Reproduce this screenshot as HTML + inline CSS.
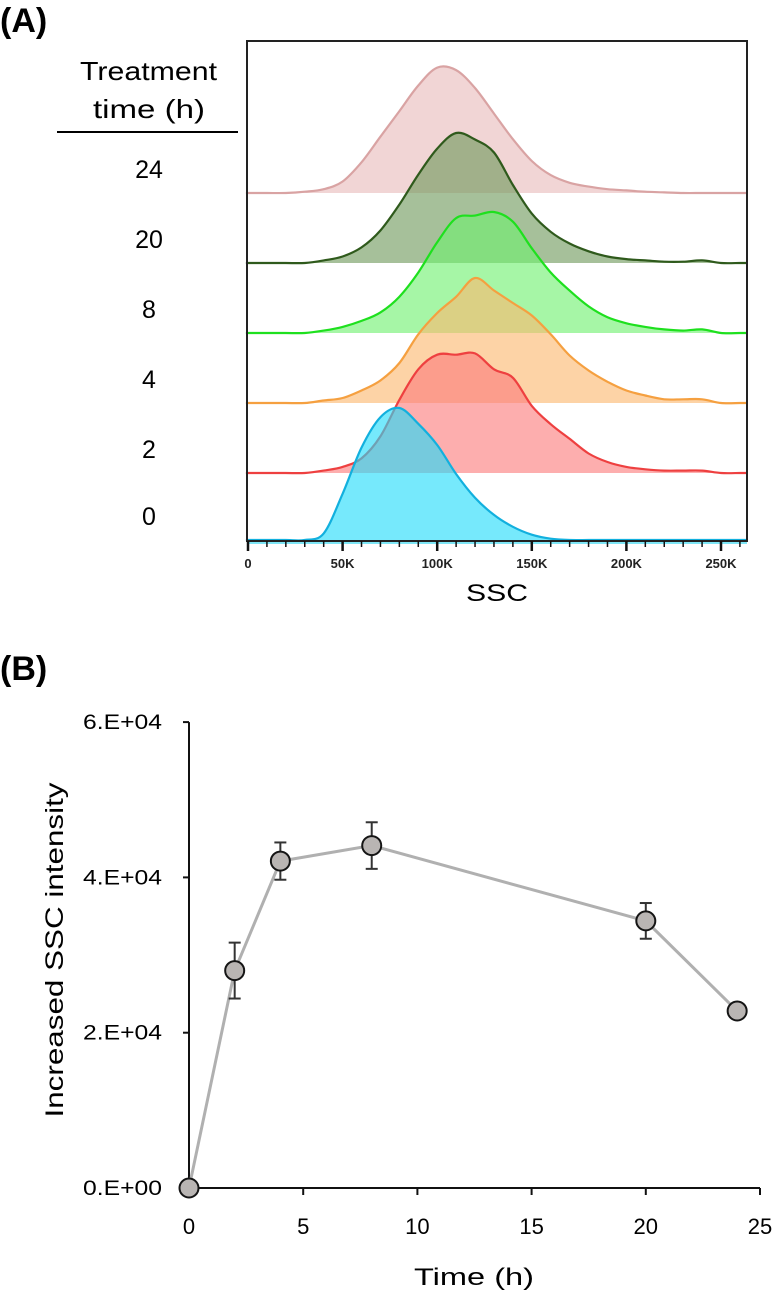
<!DOCTYPE html>
<html><head><meta charset="utf-8"><style>
html,body{margin:0;padding:0;background:#fff;}
svg{display:block;font-family:"Liberation Sans",sans-serif;}
</style></head><body>
<svg id="fig" width="774" height="1298" viewBox="0 0 774 1298">
<g id="panelA">
  <text x="0" y="32" font-size="34" font-weight="bold">(A)</text>
  <text x="80" y="80" font-size="26" textLength="137" lengthAdjust="spacingAndGlyphs">Treatment</text>
  <text x="93" y="118" font-size="26" textLength="112" lengthAdjust="spacingAndGlyphs">time (h)</text>
  <line x1="57" y1="132" x2="238" y2="132" stroke="#000" stroke-width="2"/>
  <g id="histos"></g>
  <rect x="247" y="41" width="500" height="500" fill="none" stroke="#222" stroke-width="2"/>
  <g id="axA"></g>
  <text x="497" y="601" font-size="24" text-anchor="middle" textLength="62" lengthAdjust="spacingAndGlyphs">SSC</text>
</g>
<g id="panelB">
  <text x="0" y="680" font-size="34" font-weight="bold">(B)</text>
  <text transform="translate(63,950) rotate(-90)" font-size="25" text-anchor="middle" textLength="335" lengthAdjust="spacingAndGlyphs">Increased SSC intensity</text>
  <text x="474" y="1285" font-size="24" text-anchor="middle" textLength="120" lengthAdjust="spacingAndGlyphs">Time (h)</text>
  <g id="axB"></g>
  <g id="lineB"></g>
</g>
</svg>
<script>
// Panel A data: SSC bins (K) and relative counts per treatment
const sscBins = [0,10,20,30,40,50,60,70,80,90,100,110,120,130,140,150,160,170,180,190,200,210,220,230,240,250,260];
const h24 = [0,0,0,0.01,0.03,0.09,0.24,0.44,0.64,0.84,0.98,0.96,0.82,0.62,0.42,0.25,0.14,0.08,0.05,0.03,0.02,0.01,0.005,0,0,0,0];
const h20 = [0,0,0,0,0.02,0.05,0.12,0.25,0.45,0.68,0.88,1,0.95,0.85,0.6,0.38,0.24,0.15,0.09,0.05,0.03,0.02,0.01,0.01,0.02,0,0];
const h8 = [0,0,0,0,0.02,0.05,0.1,0.17,0.3,0.5,0.75,0.95,0.97,1,0.92,0.7,0.5,0.35,0.22,0.13,0.08,0.05,0.03,0.02,0.03,0,0];
const h4 = [0,0,0,0,0.02,0.04,0.1,0.18,0.32,0.55,0.72,0.85,1,0.9,0.8,0.7,0.55,0.38,0.26,0.17,0.1,0.06,0.03,0.03,0.03,0,0];
const h2 = [0,0,0,0,0.02,0.05,0.12,0.3,0.6,0.85,0.97,0.97,0.98,0.85,0.78,0.55,0.4,0.28,0.16,0.09,0.05,0.03,0.02,0.02,0.02,0,0];
const h0 = [0,0,0,0,0.05,0.35,0.7,0.93,1,0.88,0.72,0.5,0.32,0.19,0.1,0.04,0.01,0,0,0,0,0,0,0,0,0,0];
const treatLabels = ["24","20","8","4","2","0"];
const sscTicks = ["0","50K","100K","150K","200K","250K"];
// Panel B data
const times = [0,2,4,8,20,24];
const intensity = [0,28000,42100,44100,34400,22800];
const errs = [0,3600,2400,3000,2300,0];
const yTicks = ["0.E+00","2.E+04","4.E+04","6.E+04"];
const yTickVals = [0,20000,40000,60000];
const xTicks = [0,5,10,15,20,25];

const NS="http://www.w3.org/2000/svg";
function mk(tag,attrs,parent){const e=document.createElementNS(NS,tag);for(const k in attrs)e.setAttribute(k,attrs[k]);parent.appendChild(e);return e;}

const sx = k => 248 + k*1.892;
const baseY = i => 193 + i*70;
const heights = [128,130,121,125,122,132];
const series = [h24,h20,h8,h4,h2,h0];
const fills = ["#e8bcbc","#6f9a5c","#6ff06f","#fbb870","#fb7c7c","#22dcfa"];
const strokes = ["#d9a3a3","#2f5a1c","#1ee01e","#f5a040","#ee4040","#12b0de"];
const names = ["hist-24h","hist-20h","hist-8h","hist-4h","hist-2h","hist-0h"];
const hg=document.getElementById('histos');
function smoothPath(pts){
  let d=`M${pts[0][0].toFixed(1)},${pts[0][1].toFixed(1)}`;
  for(let i=0;i<pts.length-1;i++){
    const p0=pts[Math.max(i-1,0)],p1=pts[i],p2=pts[i+1],p3=pts[Math.min(i+2,pts.length-1)];
    const c1=[p1[0]+(p2[0]-p0[0])/6,p1[1]+(p2[1]-p0[1])/6];
    const c2=[p2[0]-(p3[0]-p1[0])/6,p2[1]-(p3[1]-p1[1])/6];
    d+=` C${c1[0].toFixed(1)},${c1[1].toFixed(1)} ${c2[0].toFixed(1)},${c2[1].toFixed(1)} ${p2[0].toFixed(1)},${p2[1].toFixed(1)}`;
  }
  return d;
}
series.forEach((arr,i)=>{
  const b = i===5?540:baseY(i);
  const pts=[[249,b]];
  arr.forEach((v,j)=>{pts.push([sx(sscBins[j]),b-v*heights[i]]);});
  pts.push([746,b]);
  const d=smoothPath(pts);
  const p=mk('path',{d:d+' Z',fill:fills[i],'fill-opacity':0.62,stroke:'none'},hg);
  
  
  const l=mk('path',{d:d,fill:'none',stroke:strokes[i],'stroke-width':2.2,'stroke-linejoin':'round'},hg);
  
  
  const t=mk('text',{x:149,y:(i===5?525:b-15),'font-size':25,'text-anchor':'middle'},document.getElementById('panelA'));
  t.textContent=treatLabels[i];
  
  
});
const axA=document.getElementById('axA');
mk('line',{x1:247,y1:543,x2:747,y2:543,stroke:'#7fe6f6','stroke-width':2},axA);
for(let k=0;k<=260;k+=10){
  const maj=k%50===0;
  mk('line',{x1:sx(k),y1:541,x2:sx(k),y2:maj?551:547,stroke:'#111','stroke-width':maj?2.5:1.5},axA);
}
sscTicks.forEach((s,i)=>{
  const t=mk('text',{x:sx(i*50),y:568,'font-size':13,'font-weight':'bold','text-anchor':'middle',fill:'#222'},axA);
  t.textContent=s;
  
  
});

const bx = t => 189 + t*22.84;
const by = v => 1188 - v/20000*155.3;
const axB=document.getElementById('axB');
mk('line',{x1:bx(0),y1:by(60000),x2:bx(0),y2:by(0),stroke:'#111','stroke-width':2},axB);
mk('line',{x1:bx(0),y1:by(0),x2:bx(25),y2:by(0),stroke:'#111','stroke-width':2},axB);
yTickVals.forEach((v,i)=>{
  mk('line',{x1:bx(0)-6,y1:by(v),x2:bx(0),y2:by(v),stroke:'#111','stroke-width':2},axB);
  const t=mk('text',{x:162,y:by(v)+7,'font-size':21,'text-anchor':'end',textLength:79,lengthAdjust:'spacingAndGlyphs'},axB);
  t.textContent=yTicks[i];
  
  
});
xTicks.forEach(v=>{
  mk('line',{x1:bx(v),y1:by(0),x2:bx(v),y2:by(0)+7,stroke:'#111','stroke-width':2},axB);
  const t=mk('text',{x:bx(v),y:1234,'font-size':22,'text-anchor':'middle'},axB);
  t.textContent=String(v);
  
  
});
const lg=document.getElementById('lineB');
const pl=mk('polyline',{points:times.map((t,i)=>bx(t)+','+by(intensity[i])).join(' '),fill:'none',stroke:'#b0b0b0','stroke-width':3},lg);


times.forEach((t,i)=>{
  if(errs[i]>0){
    const x=bx(t),y1=by(intensity[i]+errs[i]),y2=by(intensity[i]-errs[i]);
    const g=mk('g',{stroke:'#333','stroke-width':2},lg);
    
    
    mk('line',{x1:x,y1:y1,x2:x,y2:y2},g);
    mk('line',{x1:x-6,y1:y1,x2:x+6,y2:y1},g);
    mk('line',{x1:x-6,y1:y2,x2:x+6,y2:y2},g);
  }
});
times.forEach((t,i)=>{
  const c=mk('circle',{cx:bx(t),cy:by(intensity[i]),r:9.5,fill:'#b9b5b3',stroke:'#151515','stroke-width':2},lg);
  
  
});
</script>
</body></html>
